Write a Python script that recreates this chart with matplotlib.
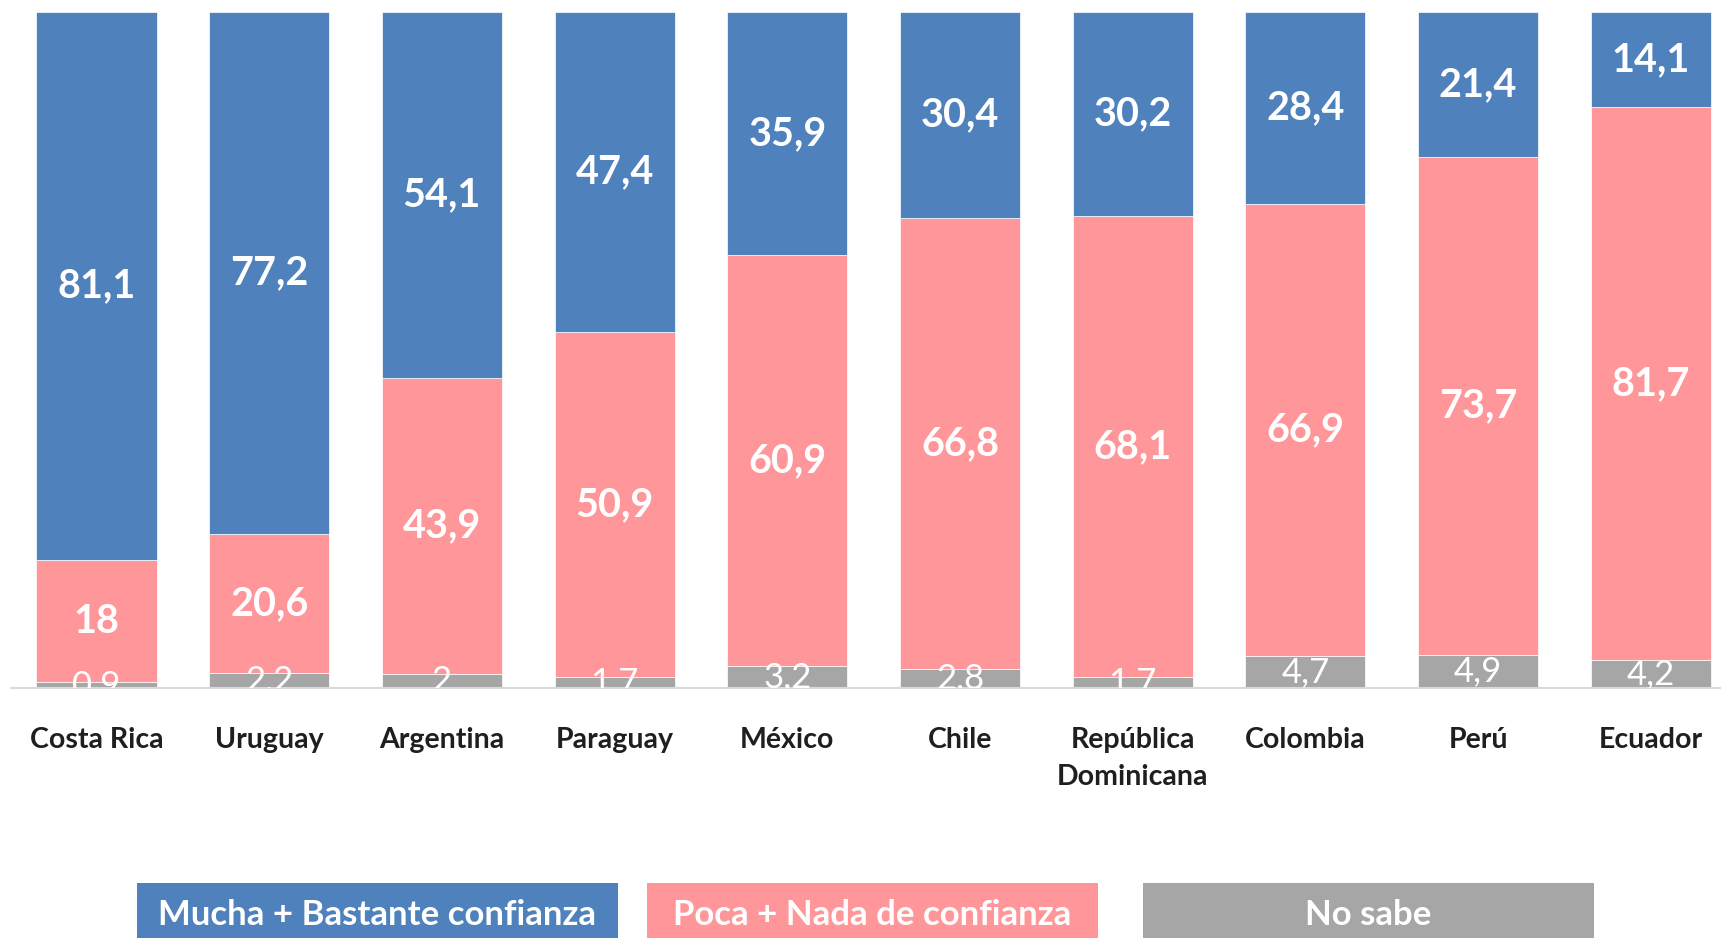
import matplotlib.pyplot as plt
from matplotlib.patches import Rectangle

plt.rcParams['font.family'] = ['Lato', 'DejaVu Sans']

countries = ["Costa Rica", "Uruguay", "Argentina", "Paraguay", "México", "Chile",
             "República\nDominicana", "Colombia", "Perú", "Ecuador"]
mucha_bastante = [81.1, 77.2, 54.1, 47.4, 35.9, 30.4, 30.2, 28.4, 21.4, 14.1]
poca_nada = [18, 20.6, 43.9, 50.9, 60.9, 66.8, 68.1, 66.9, 73.7, 81.7]
no_sabe = [0.9, 2.2, 2, 1.7, 3.2, 2.8, 1.7, 4.7, 4.9, 4.2]
series_names = ["Mucha + Bastante confianza", "Poca + Nada de confianza", "No sabe"]

BLUE = "#4F81BD"
PINK = "#FF979A"
GREY = "#A6A6A6"


def fmt(v):
    return f"{v:g}".replace(".", ",")


fig = plt.figure(figsize=(17.21, 9.38), dpi=100)
ax = fig.add_axes([11 / 1721, 250 / 938, 1710 / 1721, 676 / 938])

x = list(range(len(countries)))
width = 0.695
bottom_pink = no_sabe
bottom_blue = [a + b for a, b in zip(no_sabe, poca_nada)]

b_grey = ax.bar(x, no_sabe, width, color=GREY, edgecolor="white", linewidth=0.5)
b_pink = ax.bar(x, poca_nada, width, bottom=bottom_pink, color=PINK, edgecolor="white", linewidth=0.5)
b_blue = ax.bar(x, mucha_bastante, width, bottom=bottom_blue, color=BLUE, edgecolor="white", linewidth=0.5)

ax.bar_label(b_blue, labels=[fmt(v) for v in mucha_bastante], label_type="center",
             color="white", fontsize=28.5, fontweight="bold")
ax.bar_label(b_pink, labels=[fmt(v) for v in poca_nada], label_type="center",
             color="white", fontsize=28.5, fontweight="bold")
ax.bar_label(b_grey, labels=[fmt(v) for v in no_sabe], label_type="center",
             color="white", fontsize=25, clip_on=True)

ax.set_xlim(-0.495, 9.406)
ax.set_ylim(0, 100)
ax.set_xticks(x)
ax.set_xticklabels(countries, fontsize=20.5, fontweight="bold", color="#1F1F1F",
                   linespacing=1.55, va="top")
ax.tick_params(axis="x", length=0, pad=28)
ax.set_yticks([])
for side in ["top", "right", "left"]:
    ax.spines[side].set_visible(False)
ax.spines["bottom"].set_color("#D9D9D9")
ax.spines["bottom"].set_linewidth(1.5)

# legend boxes, in figure pixels
legend_boxes = [(137, 618, BLUE), (647, 1098, PINK), (1143, 1594, GREY)]
for name, (x0, x1, col) in zip(series_names, legend_boxes):
    fig.add_artist(Rectangle((x0 / 1721, 0), (x1 - x0) / 1721, 55 / 938,
                             transform=fig.transFigure, color=col, lw=0))
    fig.text((x0 + x1) / 2 / 1721, 23 / 938, name, ha="center", va="center",
             color="white", fontsize=25, fontweight="bold")

fig.savefig("out.png", dpi=100)
